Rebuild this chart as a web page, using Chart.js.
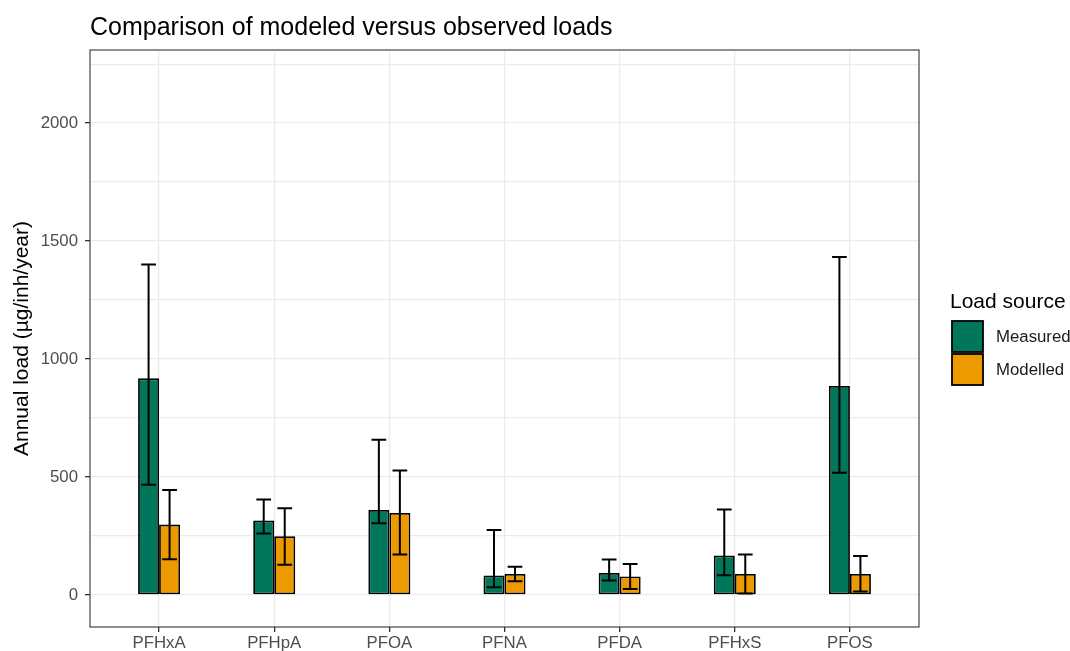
<!DOCTYPE html>
<html>
<head>
<meta charset="utf-8">
<script src="https://cdn.jsdelivr.net/npm/chart.js@4.4.0/dist/chart.umd.min.js"></script>
<style>
  body { margin: 0; background: #fff; }
</style>
</head>
<body>
<canvas id="loadChart" width="1070" height="651"></canvas>
<script>
const categories = ['PFHxA', 'PFHpA', 'PFOA', 'PFNA', 'PFDA', 'PFHxS', 'PFOS'];
const measured = [918, 315, 360, 82, 93, 167, 886];
const measuredLow = [467, 260, 304, 32, 61, 83, 518];
const measuredHigh = [1401, 405, 658, 275, 150, 362, 1432];
const modelled = [298, 249, 347, 89, 78, 89, 89];
const modelledLow = [151, 128, 171, 58, 25, 6, 14];
const modelledHigh = [445, 367, 527, 119, 131, 171, 165];
const yTickLabels = [0, 500, 1000, 1500, 2000];
const yGridValues = [0, 250, 500, 750, 1000, 1250, 1500, 1750, 2000, 2250];
const seriesNames = ['Measured', 'Modelled'];
const seriesColors = ['#00765a', '#ec9a00'];

const FONT = "'Liberation Sans', Arial, sans-serif";
Chart.defaults.font.family = FONT;

const toPoints = arr => arr.map((v, i) => ({ x: i + 1, y: v }));
const errLow = [measuredLow, modelledLow];
const errHigh = [measuredHigh, modelledHigh];

// error bars + panel border + title + legend, ggplot style
const extras = {
  id: 'extras',
  afterDatasetsDraw(chart) {
    const ctx = chart.ctx;
    const y = chart.scales.y;
    ctx.save();
    ctx.strokeStyle = '#000';
    ctx.lineWidth = 2;
    chart.data.datasets.forEach((ds, di) => {
      const meta = chart.getDatasetMeta(di);
      meta.data.forEach((bar, i) => {
        const x = bar.x;
        const cap = bar.width * 0.35;
        const yl = y.getPixelForValue(errLow[di][i]);
        const yh = y.getPixelForValue(errHigh[di][i]);
        ctx.beginPath();
        ctx.moveTo(x, yl); ctx.lineTo(x, yh);
        ctx.moveTo(x - cap, yl); ctx.lineTo(x + cap, yl);
        ctx.moveTo(x - cap, yh); ctx.lineTo(x + cap, yh);
        ctx.stroke();
      });
    });
    ctx.restore();
  },
  afterDraw(chart) {
    const ctx = chart.ctx;
    const a = chart.chartArea;
    ctx.save();
    ctx.strokeStyle = '#333';
    ctx.lineWidth = 1.1;
    ctx.strokeRect(a.left, a.top, a.right - a.left, a.bottom - a.top);

    ctx.fillStyle = '#000';
    ctx.font = '25px ' + FONT;
    ctx.textBaseline = 'alphabetic';
    ctx.textAlign = 'left';
    ctx.fillText('Comparison of modeled versus observed loads', a.left, 35);

    // legend
    const lx = 952, ly = 321, box = 31;
    ctx.font = '21px ' + FONT;
    ctx.fillText('Load source', 950, 308);
    ctx.font = '16.8px ' + FONT;
    ctx.textBaseline = 'middle';
    seriesNames.forEach((name, i) => {
      const by = ly + i * (box + 2);
      ctx.fillStyle = seriesColors[i];
      ctx.fillRect(lx, by, box, box);
      ctx.strokeStyle = '#000';
      ctx.lineWidth = 1.8;
      ctx.strokeRect(lx, by, box, box);
      ctx.fillStyle = '#1a1a1a';
      ctx.fillText(name, 996, by + box / 2 + 1);
    });
    ctx.restore();
  }
};

new Chart(document.getElementById('loadChart'), {
  type: 'bar',
  data: {
    datasets: seriesNames.map((name, di) => ({
      label: name,
      data: toPoints(di === 0 ? measured : modelled),
      backgroundColor: seriesColors[di],
      borderColor: '#000',
      borderWidth: 1.8,
      borderSkipped: false,
      categoryPercentage: 0.365,
      barPercentage: 1
    }))
  },
  options: {
    responsive: false,
    animation: false,
    layout: { padding: { top: 50, right: 151, left: 0, bottom: 0 } },
    plugins: {
      legend: { display: false },
      tooltip: { enabled: false },
      title: { display: false }
    },
    scales: {
      x: {
        type: 'linear',
        min: 0.4,
        max: 7.6,
        offset: false,
        afterFit(scale) { scale.height = 24; },
        afterBuildTicks(scale) { scale.ticks = categories.map((c, i) => ({ value: i + 1 })); },
        grid: {
          offset: false,
          color: '#ebebeb',
          lineWidth: 1.3,
          tickColor: '#333',
          tickLength: 5,
          drawTicks: true
        },
        border: { display: false },
        ticks: {
          autoSkip: false,
          maxRotation: 0,
          padding: 1,
          color: '#4d4d4d',
          font: { size: 16.8 },
          callback: v => categories[Math.round(v) - 1]
        }
      },
      y: {
        min: -136,
        max: 2310,
        afterFit(scale) { scale.width = 90; },
        afterBuildTicks(scale) { scale.ticks = yGridValues.map(v => ({ value: v })); },
        grid: {
          color: '#ebebeb',
          lineWidth: 1.3,
          tickLength: 5,
          tickColor: ctx => (ctx.tick && yTickLabels.includes(ctx.tick.value)) ? '#333' : 'rgba(0,0,0,0)'
        },
        border: { display: false },
        title: {
          display: true,
          text: 'Annual load (µg/inh/year)',
          color: '#000',
          font: { size: 21 },
          padding: { top: 10, bottom: 0 }
        },
        ticks: {
          autoSkip: false,
          padding: 7,
          color: '#4d4d4d',
          font: { size: 16.8 },
          callback: v => yTickLabels.includes(v) ? String(v) : ''
        }
      }
    }
  },
  plugins: [extras]
});
</script>
</body>
</html>
